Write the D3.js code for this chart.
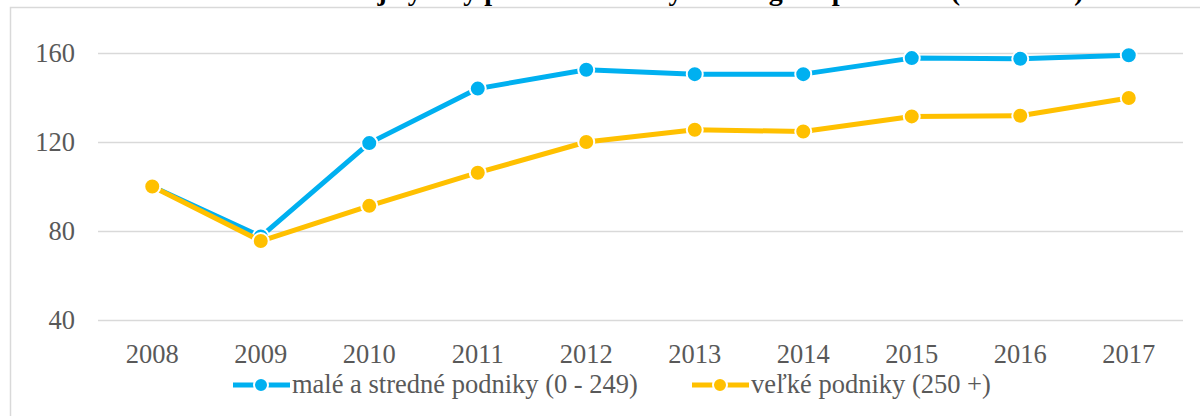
<!DOCTYPE html>
<html>
<head>
<meta charset="utf-8">
<script src="https://cdn.jsdelivr.net/npm/d3@7"></script>
<style>
  body { margin: 0; background: #fff; }
  svg { display: block; }
</style>
</head>
<body>
<svg width="1200" height="416"></svg>
<script>
// data (index, 2008 = 100)
var years = ["2008", "2009", "2010", "2011", "2012", "2013", "2014", "2015", "2016", "2017"];
var smallMedium = [100, 77.5, 119.5, 144, 152.5, 150.5, 150.5, 157.7, 157.4, 159];
var large = [100, 75.5, 91.3, 106.2, 120, 125.5, 124.7, 131.5, 131.8, 139.8];
var yTicks = [40, 80, 120, 160];
var seriesNames = ["malé a stredné podniky (0 - 249)", "veľké podniky (250 +)"];
var seriesColors = ["#00B0F0", "#FFC000"];
var title = "Graf 1: Produktivita tovarovej výroby podľa veľkostných kategórií podnikov (2008=100)";

var serif = "'Liberation Serif'";
var fontSize = 26.5;

var svg = d3.select("svg"),
    width = +svg.attr("width"),
    height = +svg.attr("height");

var margin = {left: 98, right: 17, top: 53, bottom: 96};

// chart area border (runs off the page at right/bottom)
svg.append("rect")
  .attr("x", 10.5).attr("y", 7.5)
  .attr("width", 1200).attr("height", 500)
  .attr("fill", "none")
  .attr("stroke", "#d9d9d9")
  .attr("stroke-width", 1.5);

// title, mostly cut off at the top as in the source
svg.append("text")
  .attr("x", 20).attr("y", 0)
  .attr("font-size", 28)
  .attr("font-weight", "bold")
  .style("font-family", serif)
  .attr("fill", "#000")
  .text(title);

var x = d3.scaleBand()
  .domain(years)
  .range([margin.left, width - margin.right]);

var y = d3.scaleLinear()
  .domain([40, 160])
  .range([320, margin.top]);

// gridlines
svg.append("g")
  .selectAll("line")
  .data(yTicks)
  .enter()
  .append("line")
    .attr("x1", margin.left)
    .attr("x2", width - margin.right)
    .attr("y1", function(d) { return Math.round(y(d)) + 0.5; })
    .attr("y2", function(d) { return Math.round(y(d)) + 0.5; })
    .attr("stroke", "#d9d9d9")
    .attr("stroke-width", 1.5);

// y labels
svg.append("g")
  .selectAll("text")
  .data(yTicks)
  .enter()
  .append("text")
    .attr("x", 75)
    .attr("y", function(d) { return y(d); })
    .attr("dy", "0.34em")
    .attr("text-anchor", "end")
    .attr("font-size", fontSize)
    .style("font-family", serif)
    .attr("fill", "#595959")
    .text(function(d) { return d; });

// x labels
svg.append("g")
  .selectAll("text")
  .data(years)
  .enter()
  .append("text")
    .attr("x", function(d) { return x(d) + x.bandwidth() / 2; })
    .attr("y", 363)
    .attr("text-anchor", "middle")
    .attr("font-size", fontSize)
    .style("font-family", serif)
    .attr("fill", "#595959")
    .text(function(d) { return d; });

var line = d3.line()
  .x(function(d, i) { return x(years[i]) + x.bandwidth() / 2; })
  .y(function(d) { return y(d); });

[smallMedium, large].forEach(function(series, k) {
  var g = svg.append("g");
  g.append("path")
    .datum(series)
    .attr("d", line)
    .attr("fill", "none")
    .attr("stroke", seriesColors[k])
    .attr("stroke-width", 5)
    .attr("stroke-linejoin", "round");
  g.selectAll("circle")
    .data(series)
    .enter()
    .append("circle")
      .attr("cx", function(d, i) { return x(years[i]) + x.bandwidth() / 2; })
      .attr("cy", function(d) { return y(d); })
      .attr("r", 8)
      .attr("fill", seriesColors[k])
      .attr("stroke", "#fff")
      .attr("stroke-width", 2);
});

// legend
var legendX = [233, 692];
var legend = svg.append("g")
  .selectAll("g")
  .data(seriesNames)
  .enter()
  .append("g")
    .attr("transform", function(d, i) { return "translate(" + legendX[i] + ",385)"; });

legend.append("line")
  .attr("x1", 0).attr("x2", 57)
  .attr("y1", 0).attr("y2", 0)
  .attr("stroke", function(d, i) { return seriesColors[i]; })
  .attr("stroke-width", 5);
legend.append("circle")
  .attr("cx", 28).attr("cy", 0).attr("r", 7)
  .attr("fill", function(d, i) { return seriesColors[i]; })
  .attr("stroke", "#fff")
  .attr("stroke-width", 2);
legend.append("text")
  .attr("x", 59).attr("y", 0)
  .attr("dy", "0.32em")
  .attr("font-size", fontSize)
  .style("font-family", serif)
  .attr("fill", "#595959")
  .text(function(d) { return d; });
</script>
</body>
</html>
